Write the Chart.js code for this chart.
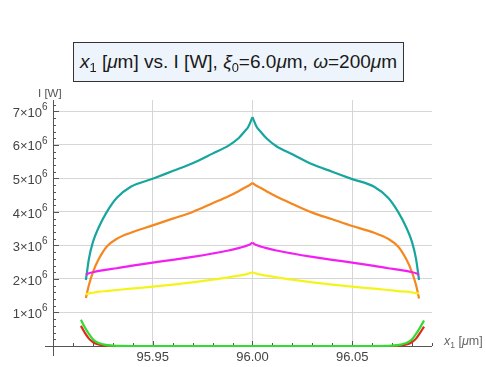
<!DOCTYPE html>
<html>
<head>
<meta charset="utf-8">
<script src="https://cdn.jsdelivr.net/npm/chart.js@4"></script>
<style>
  body { margin:0; background:#fff; }
  #wrap { position:relative; width:486px; height:367px; font-family:'Liberation Sans', Arial, sans-serif; }
  #title { position:absolute; left:73px; top:42px; width:331px; height:40px; box-sizing:border-box;
           border:1.5px solid #333; background:#eef4fb; color:#1a1a1a; font-size:19px; line-height:37px; text-align:center; white-space:nowrap; }
  #title sub, #xlab sub { font-size:68%; vertical-align:baseline; position:relative; top:0.3em; }
  #ylab { position:absolute; left:38px; top:87px; font-size:11.5px; color:#555; }
  #xlab { position:absolute; left:444px; top:334px; font-size:12.5px; color:#666; white-space:nowrap; }
</style>
</head>
<body>
<div id="wrap">
  <canvas id="c" width="486" height="367"></canvas>
  <div id="title"><i>x</i><sub>1</sub> [<i>μ</i>m] vs. I [W], <i>ξ</i><sub>0</sub>=6.0<i>μ</i>m, <i>ω</i>=200<i>μ</i>m</div>
  <div id="ylab">I [W]</div>
  <div id="xlab"><i>x</i><sub>1</sub> [<i>μ</i>m]</div>
</div>
<script>
// DATA (intensity in units of 10^6 W)
const xMain = [95.9165, 95.918, 95.920, 95.923, 95.927, 95.932, 95.939, 95.950, 95.960, 95.970, 95.980, 95.988, 95.993, 95.996, 95.998, 96.000,
               96.002, 96.004, 96.007, 96.012, 96.020, 96.030, 96.040, 96.050, 96.061, 96.068, 96.073, 96.077, 96.080, 96.082, 96.0835];
const teal    = [1.97, 2.6, 3.1, 3.55, 4.0, 4.42, 4.75, 4.99, 5.22, 5.45, 5.74, 5.98, 6.2, 6.4, 6.55, 6.83,
                 6.55, 6.4, 6.2, 5.96, 5.72, 5.42, 5.2, 4.98, 4.75, 4.42, 4.0, 3.55, 3.1, 2.6, 1.97];
const orange  = [1.43, 1.82, 2.2, 2.6, 2.97, 3.2, 3.38, 3.6, 3.8, 4.0, 4.26, 4.47, 4.62, 4.72, 4.78, 4.87,
                 4.78, 4.72, 4.62, 4.46, 4.24, 3.98, 3.78, 3.58, 3.38, 3.2, 2.97, 2.6, 2.2, 1.82, 1.42];
const magenta = [2.12, 2.17, 2.2, 2.24, 2.28, 2.32, 2.39, 2.49, 2.57, 2.66, 2.76, 2.85, 2.92, 2.97, 3.01, 3.08,
                 3.01, 2.97, 2.92, 2.85, 2.76, 2.66, 2.57, 2.49, 2.39, 2.32, 2.28, 2.24, 2.2, 2.17, 2.12];
const yellow  = [1.55, 1.57, 1.59, 1.62, 1.64, 1.67, 1.71, 1.77, 1.83, 1.9, 1.98, 2.05, 2.1, 2.13, 2.16, 2.2,
                 2.16, 2.13, 2.1, 2.05, 1.98, 1.9, 1.83, 1.77, 1.71, 1.67, 1.64, 1.62, 1.6, 1.58, 1.57];

const xEdge = [95.914, 95.916, 95.918, 95.920, 95.922, 95.925, 95.930, 95.940, 96.000, 96.060, 96.070, 96.075, 96.078, 96.080, 96.082, 96.084, 96.086];
const green = [0.78, 0.55, 0.36, 0.2, 0.11, 0.05, 0.01, 0, 0, 0, 0.01, 0.05, 0.11, 0.2, 0.36, 0.55, 0.76];
const red   = [0.6, 0.39, 0.22, 0.12, 0.06, 0.02, 0, 0, 0, 0, 0, 0.02, 0.06, 0.12, 0.22, 0.39, 0.58];

const xTicks = [95.95, 96.00, 96.05];
const yTicks = [1, 2, 3, 4, 5, 6, 7];

const PEAK = 15; // index of x = 96.00, where the curves have a cusp
const pts = (xs, ys) => xs.map((x, k) => ({x: x, y: ys[k]}));
const line = (data, color) => ({
  data: data, borderColor: color, borderWidth: 2.2, pointRadius: 0,
  cubicInterpolationMode: 'monotone', fill: false, clip: false
});
// each cusped curve is drawn as two halves so the peak stays sharp
const halves = (ys, color) => [
  line(pts(xMain.slice(0, PEAK + 1), ys.slice(0, PEAK + 1)), color),
  line(pts(xMain.slice(PEAK), ys.slice(PEAK)), color)
];

// Mathematica style axes with minor ticks and 10^6 tick labels
const axesPlugin = {
  id: 'axes',
  beforeDatasetsDraw(chart) {
    const {ctx, scales: {x, y}} = chart;
    const x0 = x.getPixelForValue(95.90), y0 = y.getPixelForValue(0);
    ctx.save();
    ctx.strokeStyle = '#555';
    ctx.lineWidth = 1;
    ctx.beginPath();
    ctx.moveTo(45, y0 + 0.5); ctx.lineTo(x.right, y0 + 0.5);
    ctx.moveTo(x0 + 0.5, y.top); ctx.lineTo(x0 + 0.5, y0 + 10);
    for (let k = 0; k <= 19; k++) {
      const px = Math.round(x.getPixelForValue(95.90 + k * 0.01)) + 0.5;
      const major = k % 5 === 0;
      ctx.moveTo(px, y0); ctx.lineTo(px, y0 - (major ? 5 : 3));
    }
    for (let k = 0; k <= 36; k++) {
      const py = Math.round(y.getPixelForValue(k * 0.2)) + 0.5;
      const major = k % 5 === 0;
      ctx.moveTo(x0, py); ctx.lineTo(x0 + (major ? 6 : 3), py);
    }
    ctx.stroke();

    ctx.fillStyle = '#444';
    ctx.textBaseline = 'middle';
    yTicks.forEach(v => {
      const py = y.getPixelForValue(v);
      ctx.font = "10px 'Liberation Sans', Arial";
      ctx.textAlign = 'left';
      ctx.fillText('6', 42, py - 4);
      ctx.font = "13px 'Liberation Sans', Arial";
      ctx.textAlign = 'right';
      ctx.fillText(v + '×10', 42, py + 2);
    });
    ctx.restore();
  }
};

new Chart(document.getElementById('c'), {
  type: 'line',
  data: {
    datasets: [
      line(pts(xEdge, green), '#2fdc2f'),
      line(pts(xEdge, red), '#dd2a1a'),
      ...halves(magenta, '#f21ef2'),
      ...halves(teal, '#17a69e'),
      ...halves(yellow, '#f4f41c'),
      ...halves(orange, '#f5871e')
    ]
  },
  options: {
    responsive: false,
    animation: false,
    devicePixelRatio: 1,
    layout: { padding: { top: 100, right: 54, left: 0, bottom: 0 } },
    plugins: { legend: { display: false }, tooltip: { enabled: false } },
    scales: {
      x: {
        type: 'linear', min: 95.90, max: 96.09,
        afterBuildTicks: s => { s.ticks = xTicks.map(v => ({value: v})); },
        afterFit: s => { s.height = 21; },
        grid: { color: '#d6d6d6', drawTicks: false },
        border: { display: false },
        ticks: { padding: 4, color: '#444', font: { family: "'Liberation Sans', Arial", size: 13 },
                 callback: v => v.toFixed(2) }
      },
      y: {
        min: 0, max: 7.34,
        afterBuildTicks: s => { s.ticks = yTicks.map(v => ({value: v})); },
        afterFit: s => { s.width = 53; },
        grid: { color: '#d6d6d6', drawTicks: false },
        border: { display: false },
        ticks: { display: false }
      }
    }
  },
  plugins: [axesPlugin]
});
</script>
</body>
</html>
